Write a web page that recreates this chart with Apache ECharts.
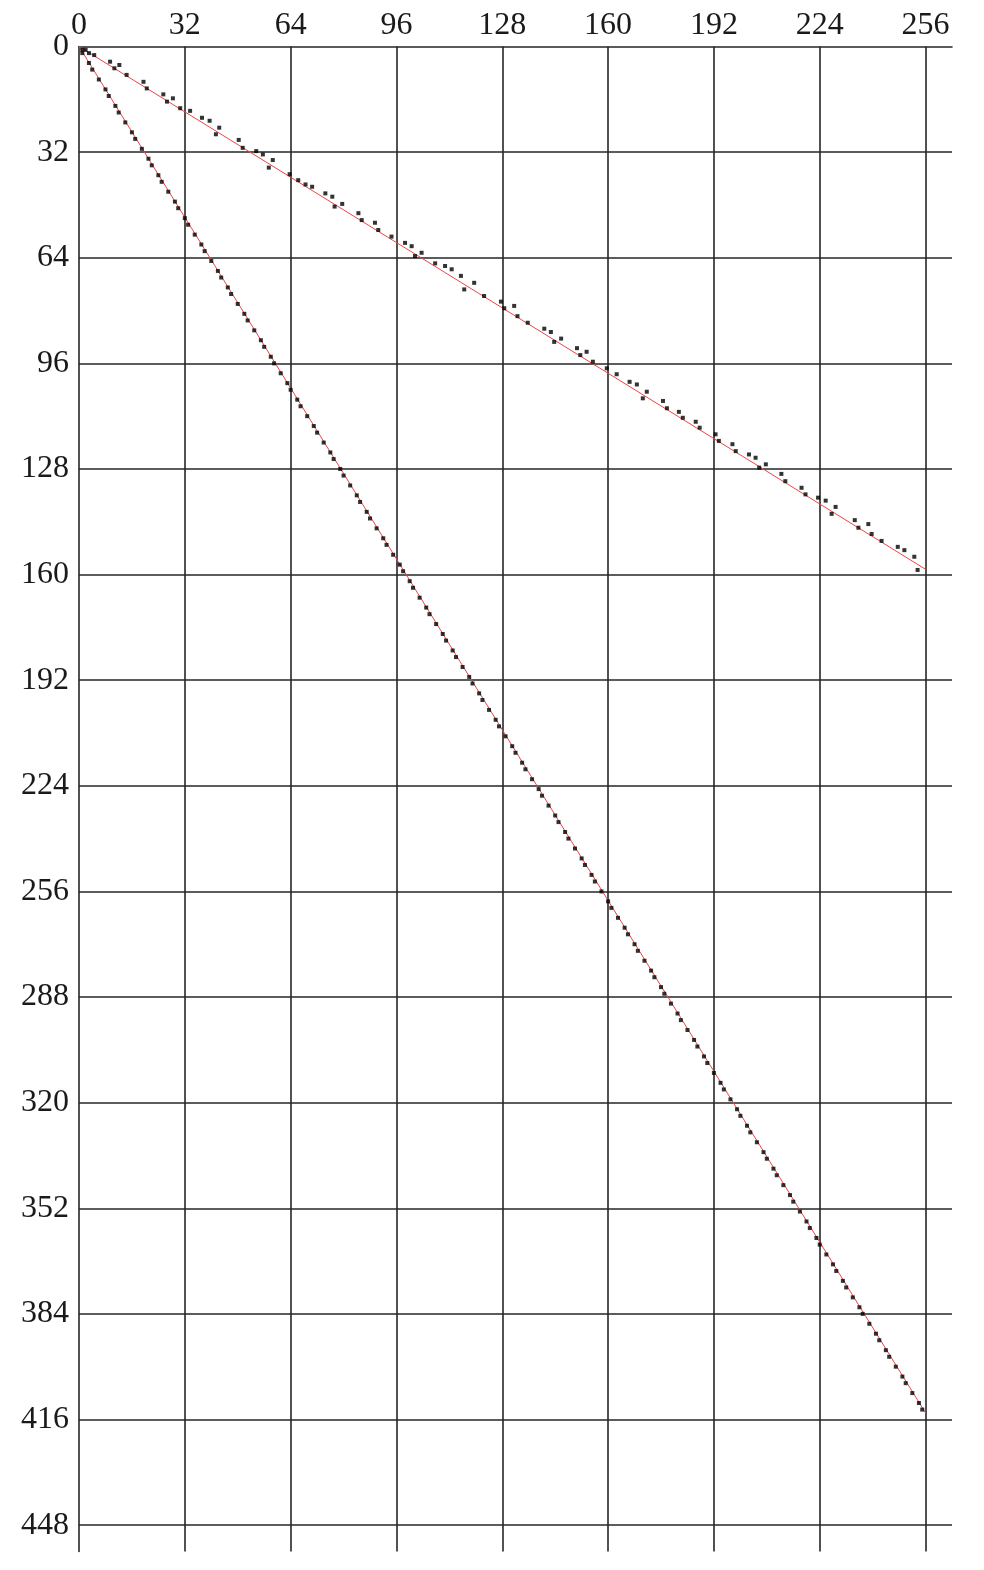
<!DOCTYPE html>
<html>
<head>
<meta charset="utf-8">
<script src="https://cdn.jsdelivr.net/npm/echarts@6/dist/echarts.min.js"></script>
<style>
html,body{margin:0;padding:0;background:#fff;}
#chart{width:984px;height:1570px;}
</style>
</head>
<body>
<div id="chart"></div>
<script>
// Tick labels
const xTicks = [0, 32, 64, 96, 128, 160, 192, 224, 256];
const yTicks = [0, 32, 64, 96, 128, 160, 192, 224, 256, 288, 320, 352, 384, 416, 448];

// Reference lines (endpoints)
const upperLineX = [0, 256];
const upperLineY = [0, 158.4];
const lowerLineX = [0, 256];
const lowerLineY = [0, 414];

// Points scattered along the upper (shallow) line
const upperX = [1, 2, 3, 4.6, 9.4, 10.7, 12.2, 14.4, 19.5, 20.5, 25.5, 26.6, 28.4, 30.6, 33.6, 37.2, 39.5, 41.4, 42.4, 48.3, 49.5, 53.6, 55.6, 57.4, 58.6, 63.7, 66.3, 68.5, 70.5, 74.5, 76.6, 77.3, 79.6, 84.5, 85.5, 89.5, 90.5, 94.5, 98.6, 100.6, 101.6, 103.6, 107.7, 110.7, 112.7, 115.5, 116.5, 119.5, 122.5, 127.6, 128.6, 131.6, 132.6, 135.7, 140.7, 142.7, 143.7, 145.8, 150.6, 151.6, 153.5, 155.4, 159.6, 162.6, 166.5, 168.7, 170.5, 171.7, 176.6, 177.8, 181.4, 182.6, 186.5, 187.7, 192.5, 193.5, 197.6, 198.6, 202.6, 204.6, 205.7, 207.7, 212.4, 213.6, 218.5, 219.7, 223.5, 225.8, 227.6, 228.8, 234.6, 235.7, 238.7, 239.7, 242.7, 247.6, 249.6, 252.6, 253.6];
const upperY = [1, 1, 2, 2.6, 4.6, 6.6, 5.6, 8.6, 10.7, 12.7, 14.5, 16.7, 15.7, 18.7, 19.5, 21.6, 22.5, 26.6, 24.6, 28.3, 30.7, 31.7, 32.7, 36.7, 34.4, 38.7, 40.5, 41.8, 42.5, 44.5, 45.5, 48.5, 47.7, 50.5, 52.6, 53.4, 55.6, 57.6, 59.5, 60.5, 63.5, 62.5, 65.7, 66.5, 67.5, 69.5, 73.6, 71.6, 75.6, 77.3, 79.3, 78.6, 81.7, 83.7, 85.5, 86.5, 89.5, 88.5, 91.4, 93.5, 92.5, 95.5, 97.5, 99.3, 101.6, 102.4, 106.6, 104.6, 107.4, 109.6, 110.7, 112.5, 113.7, 115.5, 117.5, 119.5, 120.5, 122.6, 123.6, 124.6, 127.6, 126.6, 129.5, 131.7, 133.7, 135.7, 136.7, 137.6, 141.6, 139.5, 143.5, 145.8, 144.7, 147.7, 149.8, 151.6, 152.6, 154.6, 158.6];

// Points along the lower (steep) line
const lowerX = [1, 3, 4, 6, 8, 9, 11, 12, 14, 16, 17, 19, 21, 22, 24, 25, 27, 29, 30, 32, 33, 35, 37, 38, 40, 42, 43, 45, 46, 48, 50, 51, 53, 55, 56, 58, 59, 61, 63, 64, 66, 67, 69, 71, 72, 74, 76, 77, 79, 80, 82, 84, 85, 87, 88, 90, 92, 93, 95, 97, 98, 100, 101, 103, 105, 106, 108, 110, 111, 113, 114, 116, 118, 119, 121, 122, 124, 126, 127, 129, 131, 132, 134, 135, 137, 139, 140, 142, 144, 145, 147, 148, 150, 152, 153, 155, 156, 158, 160, 161, 163, 165, 166, 168, 169, 171, 173, 174, 176, 177, 179, 181, 182, 184, 186, 187, 189, 190, 192, 194, 195, 197, 199, 200, 202, 203, 205, 207, 208, 210, 211, 213, 215, 216, 218, 220, 221, 223, 224, 226, 228, 229, 231, 232, 234, 236, 237, 239, 241, 242, 244, 245, 247, 249, 250, 252, 254, 255];
const lowerY = [2, 5, 7, 10, 13, 15, 18, 20, 23, 26, 28, 31, 34, 36, 39, 41, 44, 47, 49, 52, 54, 57, 60, 62, 65, 68, 70, 73, 75, 78, 81, 83, 86, 89, 91, 94, 96, 99, 102, 104, 107, 109, 112, 115, 117, 120, 123, 125, 128, 130, 133, 136, 138, 141, 143, 146, 149, 151, 154, 157, 159, 162, 164, 167, 170, 172, 175, 178, 180, 183, 185, 188, 191, 193, 196, 198, 201, 204, 206, 209, 212, 214, 217, 219, 222, 225, 227, 230, 233, 235, 238, 240, 243, 246, 248, 251, 253, 256, 259, 261, 264, 267, 269, 272, 274, 277, 280, 282, 285, 287, 290, 293, 295, 298, 301, 303, 306, 308, 311, 314, 316, 319, 322, 324, 327, 329, 332, 335, 337, 340, 342, 345, 348, 350, 353, 356, 358, 361, 363, 366, 369, 371, 374, 376, 379, 382, 384, 387, 390, 392, 395, 397, 400, 403, 405, 408, 411, 413];

const zip = (xs, ys) => xs.map((x, i) => [x, ys[i]]);

const gridColor = '#262626';
const labelStyle = {
  fontFamily: '"Liberation Serif", "DejaVu Serif", serif',
  fontSize: 32,
  color: '#1a1a1a'
};

const chart = echarts.init(document.getElementById('chart'), null, {renderer: 'canvas'});
chart.setOption({
  animation: false,
  backgroundColor: '#ffffff',
  grid: {left: 79, top: 46.5, right: 32, bottom: 18.5, containLabel: false},
  xAxis: {
    type: 'value',
    position: 'top',
    min: 0,
    max: 264,
    interval: 32,
    axisLine: {show: true, onZero: false, lineStyle: {color: gridColor, width: 1.6}},
    axisTick: {show: false},
    axisLabel: Object.assign({
      margin: 5,
      showMaxLabel: false,
      formatter: v => (xTicks.indexOf(v) >= 0 ? String(v) : '')
    }, labelStyle),
    splitLine: {show: true, showMinLine: false, showMaxLine: false, lineStyle: {color: gridColor, width: 1.6}}
  },
  yAxis: {
    type: 'value',
    inverse: true,
    min: 0,
    max: 456,
    interval: 32,
    axisLine: {show: true, onZero: false, lineStyle: {color: gridColor, width: 1.6}},
    axisTick: {show: false},
    axisLabel: Object.assign({
      margin: 10,
      showMaxLabel: false,
      formatter: v => (yTicks.indexOf(v) >= 0 ? String(v) : '')
    }, labelStyle),
    splitLine: {show: true, showMinLine: false, showMaxLine: false, lineStyle: {color: gridColor, width: 1.6}}
  },
  series: [
    {
      type: 'line',
      data: zip(upperLineX, upperLineY),
      showSymbol: false,
      lineStyle: {color: '#ee4444', width: 1},
      z: 3
    },
    {
      type: 'line',
      data: zip(lowerLineX, lowerLineY),
      showSymbol: false,
      lineStyle: {color: '#ee4444', width: 1},
      z: 3
    },
    {
      type: 'scatter',
      data: zip(upperX, upperY),
      symbol: 'rect',
      symbolSize: 4,
      itemStyle: {color: '#000'},
      z: 4
    },
    {
      type: 'scatter',
      data: zip(lowerX, lowerY),
      symbol: 'rect',
      symbolSize: 4,
      itemStyle: {color: '#000'},
      z: 4
    }
  ]
});
</script>
</body>
</html>
